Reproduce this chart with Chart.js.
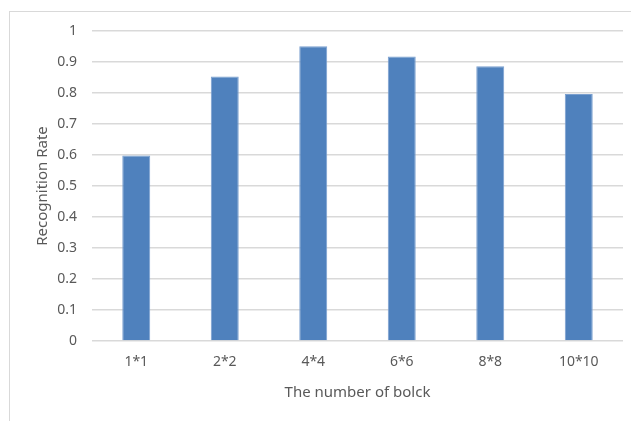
<!DOCTYPE html>
<html>
<head>
<meta charset="utf-8">
<script src="https://cdn.jsdelivr.net/npm/chart.js@4.4.0/dist/chart.umd.min.js"></script>
<style>
  html, body { margin: 0; padding: 0; background: #ffffff; }
  #wrap { position: relative; width: 631px; height: 421px; overflow: hidden; }
  #frame { position: absolute; left: 9px; top: 11px; width: 640px; height: 430px; border: 1px solid #d9d9d9; box-sizing: border-box; }
  #barChart { position: absolute; left: 0; top: 0; }
</style>
</head>
<body>
<div id="wrap">
  <div id="frame"></div>
  <canvas id="barChart" width="631" height="421"></canvas>
</div>
<script>
// chart data
var blockLabels = ['1*1', '2*2', '4*4', '6*6', '8*8', '10*10'];
var recognitionRates = [0.598, 0.853, 0.951, 0.918, 0.886, 0.797];
var yTickValues = [0, 0.1, 0.2, 0.3, 0.4, 0.5, 0.6, 0.7, 0.8, 0.9, 1];

document.addEventListener("DOMContentLoaded", function () {
    var textColor = '#595959';
    var fontFamily = "'Noto Sans', 'Liberation Sans', sans-serif";

    var ctx = document.getElementById('barChart').getContext('2d');
    var barChart = new Chart(ctx, {
        type: 'bar',
        data: {
            labels: blockLabels,
            datasets: [{
                label: 'Recognition Rate',
                data: recognitionRates,
                backgroundColor: '#4f81bd',
                borderColor: '#7a9fcf',
                borderWidth: 1,
                categoryPercentage: 1.0,
                barPercentage: 0.316
            }]
        },
        options: {
            responsive: false,
            animation: false,
            layout: {
                padding: { top: 31, right: 8, bottom: 0, left: 0 }
            },
            plugins: {
                legend: { display: false },
                tooltip: { enabled: false }
            },
            scales: {
                x: {
                    grid: { display: false, drawTicks: false },
                    border: { display: false },
                    ticks: {
                        color: textColor,
                        padding: 13,
                        font: { family: fontFamily, size: 14 }
                    },
                    title: {
                        display: true,
                        text: 'The number of bolck',
                        color: textColor,
                        padding: { top: 0, bottom: 19 },
                        font: { family: fontFamily, size: 15 }
                    },
                    afterFit: function (scale) { scale.height = 80; }
                },
                y: {
                    min: 0,
                    max: 1,
                    afterBuildTicks: function (scale) {
                        scale.ticks = yTickValues.map(function (v) { return { value: v }; });
                    },
                    grid: { color: '#d9d9d9', lineWidth: 1.5, drawTicks: false },
                    border: { display: false },
                    ticks: {
                        color: textColor,
                        padding: 15,
                        font: { family: fontFamily, size: 14 },
                        callback: function (v) { return String(Math.round(v * 10) / 10); }
                    },
                    title: {
                        display: true,
                        text: 'Recognition Rate',
                        color: textColor,
                        padding: { top: 34, bottom: 0 },
                        font: { family: fontFamily, size: 15 }
                    },
                    afterFit: function (scale) { scale.width = 92; }
                }
            }
        }
    });
});
</script>
</body>
</html>
